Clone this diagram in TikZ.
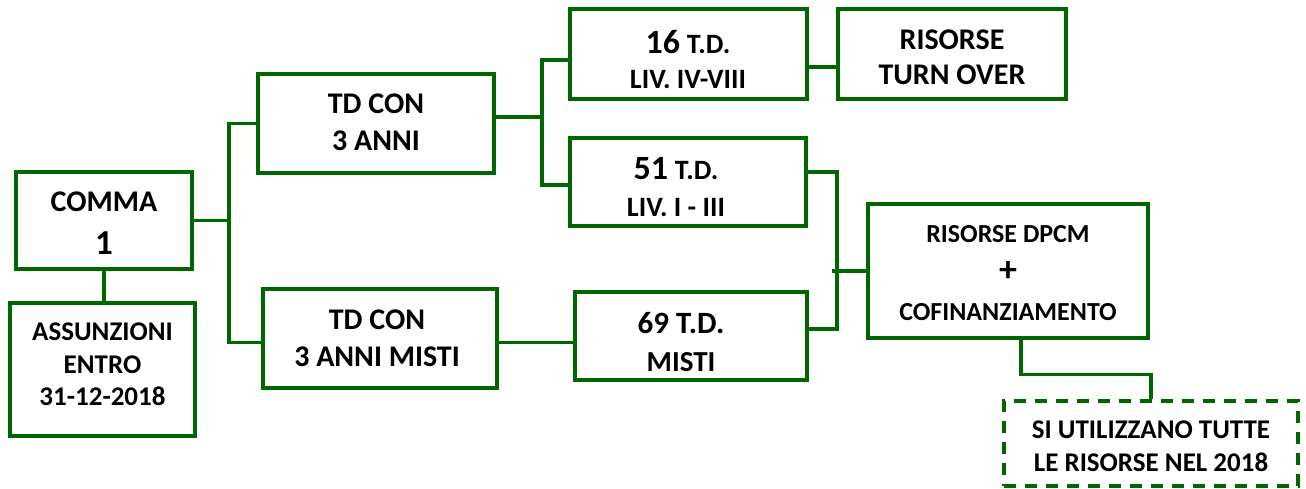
\documentclass[tikz,border=0pt]{standalone}
\usepackage{fontspec}
\setmainfont{Carlito}
\definecolor{dgreen}{RGB}{0,102,0}
\begin{document}
\begin{tikzpicture}[x=1pt,y=-1pt,
  box/.style={draw=dgreen,line width=3.4pt,fill=white,inner sep=0pt},
  dbox/.style={box,dash pattern=on 12pt off 9pt},
  link/.style={draw=dgreen,line width=3.4pt},
  txt/.style={inner sep=0pt,align=center,font=\bfseries\fontsize{30}{37}\selectfont}]
\useasboundingbox (0,0) rectangle (1306,488);
% boxes
\node[box,minimum width=176,minimum height=97] (comma) at (104,220.5) {};
\node[box,minimum width=185,minimum height=133] (assun) at (102.5,369.5) {};
\node[box,minimum width=236,minimum height=99] (td3) at (376,123.5) {};
\node[box,minimum width=234,minimum height=99] (tdm) at (380,338.5) {};
\node[box,minimum width=237,minimum height=90] (n16) at (688.5,54) {};
\node[box,minimum width=228,minimum height=90] (turn) at (952,54) {};
\node[box,minimum width=236,minimum height=88] (n51) at (688,182) {};
\node[box,minimum width=232,minimum height=88] (n69) at (691,336) {};
\node[box,minimum width=280,minimum height=134] (dpcm) at (1008,271) {};
\node[dbox,minimum width=294,minimum height=85] (si) at (1151,443.5) {};
% texts
\node[txt,font=\bfseries\fontsize{30}{43.5}\selectfont] (comma-t) at (104,223)
  {COMMA\\{\fontsize{35}{43.5}\selectfont 1}};
\node[txt,font=\bfseries\fontsize{27}{32.5}\selectfont] (assun-t) at (102.5,364.5)
  {ASSUNZIONI\\ENTRO\\31-12-2018};
\node[txt] (td3-t) at (376,122.5) {TD CON\\3 ANNI};
\node[txt] (tdm-t) at (377,338.5) {TD CON\\3 ANNI MISTI};
\begin{scope}
  \clip (572,11) rectangle (805,91);
  \node[txt,font=\bfseries\fontsize{30}{35}\selectfont] (n16-t) at (688,59)
    {{\fontsize{34}{35}\selectfont 16} {\fontsize{28}{35}\selectfont T.D.}\\{\fontsize{28}{35}\selectfont LIV. IV-VIII}};
\end{scope}
\node[txt,font=\bfseries\fontsize{30}{35}\selectfont] (turn-t) at (952,57.5) {RISORSE\\TURN OVER};
\node[txt] (n51-t) at (676,187.5)
  {{\fontsize{34}{37}\selectfont 51} {\fontsize{28}{37}\selectfont T.D.}\\{\fontsize{28}{37}\selectfont LIV. I - III}};
\node[txt,font=\bfseries\fontsize{29}{38}\selectfont] (n69-t) at (681,342)
  {{\fontsize{31}{38}\selectfont 69 T.D.}\\MISTI};
\node[txt,font=\bfseries\fontsize{26}{39}\selectfont] (dpcm-t) at (1008,273)
  {RISORSE DPCM\\{\fontsize{36}{39}\selectfont +}\\COFINANZIAMENTO};
\node[txt,font=\bfseries\fontsize{27}{33}\selectfont] (si-t) at (1151,446.5)
  {SI UTILIZZANO TUTTE\\LE RISORSE NEL 2018};
% connectors
\coordinate (b1) at (229,0);
\coordinate (b2) at (542,0);
\coordinate (b3) at (837,0);
\draw[link] (comma.south) -- (comma.south |- assun.north);
\draw[link] (comma.east) -- (comma.east -| b1);
\draw[link] (td3.west) -- (td3.west -| b1) -- ([yshift=-4pt]tdm.west -| b1) -- ([yshift=-4pt]tdm.west);
\draw[link] ([yshift=6.5pt]td3.east) -- ([yshift=6.5pt]td3.east -| b2);
\draw[link] ([yshift=-6pt]n16.west) -- ([yshift=-6pt]n16.west -| b2) -- ([yshift=-3pt]n51.west -| b2) -- ([yshift=-3pt]n51.west);
\draw[link] ([yshift=-13pt]n16.east) -- ([yshift=-13pt]n16.east -| turn.west);
\draw[link] ([yshift=10pt]n51.east) -- ([yshift=10pt]n51.east -| b3) -- ([yshift=7pt]n69.east -| b3) -- ([yshift=7pt]n69.east);
\draw[link] (dpcm.west) -- ([xshift=-5pt]dpcm.west -| b3);
\draw[link] ([yshift=-4pt]tdm.east) -- ([yshift=-4pt]tdm.east -| n69.west);
\draw[link] ([xshift=13pt]dpcm.south) -- ++(0,35) -| (si.north);
\end{tikzpicture}
\end{document}
